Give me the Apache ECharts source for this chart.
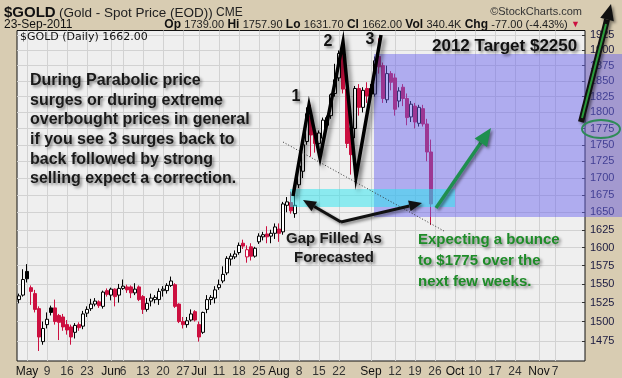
<!DOCTYPE html>
<html><head><meta charset="utf-8">
<script src="https://cdn.jsdelivr.net/npm/echarts@6/dist/echarts.min.js"></script>
<style>html,body{margin:0;padding:0;background:#d8ccb2;}#c{width:622px;height:378px;}</style>
</head><body><div id="c"></div>
<script>
// ---- trading days (month -> days) ----
const daysApr = [28,29];
const daysMay = [2,3,4,5,6,9,10,11,12,13,16,17,18,19,20,23,24,25,26,27,31];
const daysJun = [1,2,3,6,7,8,9,10,13,14,15,16,17,20,21,22,23,24,27,28,29,30];
const daysJul = [1,5,6,7,8,11,12,13,14,15,18,19,20,21,22,25,26,27,28,29];
const daysAug = [1,2,3,4,5,8,9,10,11,12,15,16,17,18,19,22,23,24,25,26,29,30,31];
const daysSep = [1,2,6,7,8,9,12,13,14,15,16,19,20,21,22,23,26,27,28,29,30];
const daysOct = [3,4,5,6,7,10,11,12,13,14,17,18,19,20,21,24,25,26,27,28,31];
const daysNov = [1,2,3,4,7,8,9,10,11,14,15,16];

// ---- OHLC (Apr 28 .. Sep 23, 2011) ----
const opens  = [1529,1535,1567,1545,1537,1517,1474,1496,1518,1518,1508,1506,1496,1493,1486,1496,1494,1511,1517,1523,1526,1520,1541,1535,1543,1535,1544,1546,1546,1538,1546,1533,1516,1527,1529,1529,1541,1541,1548,1549,1523,1500,1496,1502,1513,1496,1486,1516,1529,1531,1545,1554,1565,1584,1587,1593,1606,1587,1601,1588,1608,1615,1619,1616,1620,1626,1622,1660,1664,1648,1690,1710,1755,1795,1768,1752,1760,1780,1795,1830,1855,1897,1837,1776,1775,1838,1808,1838,1838,1829,1890,1875,1820,1862,1855,1818,1840,1822,1793,1810,1783,1806,1782,1739];
const highs  = [1537,1570,1577,1548,1542,1520,1500,1512,1521,1529,1510,1510,1502,1496,1498,1499,1514,1520,1530,1531,1528,1541,1544,1545,1544,1550,1556,1549,1548,1551,1548,1535,1531,1537,1535,1544,1547,1551,1560,1551,1524,1506,1506,1516,1515,1500,1513,1535,1535,1547,1556,1574,1588,1592,1596,1607,1611,1603,1606,1601,1620,1622,1630,1625,1634,1634,1665,1672,1680,1676,1724,1760,1808,1812,1775,1772,1792,1795,1830,1878,1900,1912,1845,1790,1842,1845,1840,1848,1845,1890,1920,1880,1875,1866,1862,1840,1845,1830,1818,1815,1812,1812,1790,1757.9];
const lows   = [1524,1533,1552,1522,1512,1462,1470,1491,1508,1496,1476,1488,1483,1470,1478,1488,1490,1506,1514,1520,1518,1517,1533,1528,1520,1525,1542,1538,1531,1535,1527,1510,1513,1520,1524,1522,1533,1537,1546,1518,1498,1491,1492,1500,1500,1474,1484,1511,1522,1524,1542,1551,1562,1575,1584,1590,1598,1579,1582,1586,1605,1610,1606,1606,1612,1608,1618,1650,1648,1642,1685,1700,1750,1732,1738,1745,1755,1775,1790,1825,1850,1830,1745,1705,1760,1795,1800,1815,1818,1825,1862,1815,1815,1835,1795,1808,1810,1780,1785,1775,1778,1778,1725,1631.7];
const closes = [1534,1556,1557,1540,1516,1480,1491,1503,1512,1500,1499,1493,1489,1480,1495,1492,1510,1516,1523,1527,1521,1539,1536,1543,1533,1544,1547,1542,1538,1543,1529,1516,1524,1531,1532,1540,1543,1548,1554,1520,1500,1496,1501,1510,1502,1480,1512,1529,1532,1542,1549,1563,1585,1588,1591,1603,1602,1597,1588,1599,1616,1618,1615,1620,1629,1620,1662,1665,1652,1660,1718,1750,1798,1765,1752,1768,1788,1792,1828,1852,1895,1837,1752,1735,1838,1808,1835,1826,1829,1883,1873,1822,1862,1848,1805,1834,1822,1792,1813,1785,1808,1782,1739,1662];

// ---- axis ticks ----
const yTicks = [1475,1500,1525,1550,1575,1600,1625,1650,1675,1700,1725,1750,1775,1800,1825,1850,1875,1900,1925];
const yMin = 1449.3, yMax = 1933.3;
const xTickDates  = ['05-02','05-09','05-16','05-23','06-01','06-06','06-13','06-20','06-27','07-01','07-11','07-18','07-25','08-01','08-08','08-15','08-22','09-01','09-12','09-19','09-26','10-03','10-10','10-17','10-24','11-01','11-07'];
const xTickLabels = ['May','9','16','23','Jun','6','13','20','27','Jul','11','18','25','Aug','8','15','22','Sep','12','19','26','Oct','10','17','24','Nov','7'];

const pad = n => (n<10?'0':'')+n;
const months = [['04',daysApr],['05',daysMay],['06',daysJun],['07',daysJul],['08',daysAug],['09',daysSep],['10',daysOct],['11',daysNov]];
const categories = [];
months.forEach(([m,ds]) => ds.forEach(d => categories.push(m+'-'+pad(d))));
const tickMap = {};
xTickDates.forEach((d,i)=> tickMap[d] = xTickLabels[i]);

const L = Math.log;
const RED = '#cc1040';
const candleData = opens.map((o,i)=>{
  const c = closes[i];
  const down = i>0 && c < closes[i-1];
  const col = down ? RED : '#000';
  const hollow = c >= o;
  const fill = hollow ? '#ffffff' : col;
  return {value:[L(o),L(c),L(lows[i]),L(highs[i])],
    itemStyle:{color:fill,color0:fill,borderColor:col,borderColor0:col,borderWidth:1}};
});

const FONT = '"Liberation Sans", Arial, sans-serif';
const shadow = {shadowBlur:3, shadowColor:'rgba(0,0,0,0.45)', shadowOffsetX:2, shadowOffsetY:2};
const tshadow = {textShadowBlur:3, textShadowColor:'rgba(0,0,0,0.45)', textShadowOffsetX:2, textShadowOffsetY:2};

function arrow(x1,y1,x2,y2,color,lw,hl,hw,z,sh){
  const a = Math.atan2(y2-y1,x2-x1);
  const bx = x2-hl*Math.cos(a), by = y2-hl*Math.sin(a);
  const px = -Math.sin(a)*hw/2, py = Math.cos(a)*hw/2;
  return [
    {type:'line', z:z, shape:{x1:x1,y1:y1,x2:bx,y2:by}, style:Object.assign({stroke:color,lineWidth:lw},sh||{})},
    {type:'polygon', z:z, shape:{points:[[x2,y2],[bx+px,by+py],[bx-px,by-py]]}, style:Object.assign({fill:color},sh||{})}
  ];
}

const graphics = [
  // header
  {type:'text', z:20, style:{x:4, y:13, text:'{a|$GOLD} {b|(Gold - Spot Price (EOD))} {c|CME}', verticalAlign:'middle',
    rich:{a:{font:'bold 15px '+FONT, fill:'#111'}, b:{font:'13.5px '+FONT, fill:'#222'}, c:{font:'12px '+FONT, fill:'#222'}}}},
  {type:'text', z:20, style:{x:582, y:12, text:'\u00A9StockCharts.com', align:'right', verticalAlign:'middle', font:'11px '+FONT, fill:'#333'}},
  {type:'text', z:20, style:{x:4, y:25, text:'23-Sep-2011', verticalAlign:'middle', font:'12px '+FONT, fill:'#111'}},
  {type:'text', z:20, style:{x:580, y:25, align:'right', verticalAlign:'middle',
    text:'{k|Op} {v|1739.00} {k|Hi} {v|1757.90} {k|Lo} {v|1631.70} {k|Cl} {v|1662.00} {k|Vol} {v|340.4K} {k|Chg} {v|-77.00 (-4.43%)} {r|\u25BC}',
    rich:{k:{font:'bold 12px '+FONT, fill:'#111'}, v:{font:'11px '+FONT, fill:'#222'}, r:{font:'9px '+FONT, fill:'#cc1040'}}}},
  // overlays
  {type:'rect', z:10, shape:{x:374, y:54, width:248, height:163}, style:{fill:'rgba(105,98,238,0.48)'}},
  {type:'rect', z:11, shape:{x:290, y:189, width:165, height:18}, style:{fill:'rgba(40,230,240,0.5)'}},
  {type:'line', z:12, shape:{x1:283,y1:142,x2:444,y2:231}, style:{stroke:'#333', lineWidth:1, lineDash:[1,2]}},
  {type:'polyline', z:13, shape:{points:[[293,196],[309,105],[320,158],[343,42],[356,177],[381,35]]},
    style:Object.assign({stroke:'#000', lineWidth:3.5, fill:null}, {shadowBlur:4, shadowColor:'rgba(0,0,0,0.5)', shadowOffsetX:3, shadowOffsetY:3})},
  // labels on chart
  {type:'text', z:20, style:{x:20, y:37, text:'$GOLD (Daily) 1662.00', verticalAlign:'middle', font:'11px "DejaVu Sans", Verdana, sans-serif', fill:'#111'}},
  {type:'text', z:20, style:Object.assign({x:30, y:71, text:'During Parabolic price\nsurges or during extreme\noverbought prices in general\nif you see 3 surges back to\nback followed by strong\nselling expect a correction.',
    font:'bold 16px '+FONT, fill:'#1a1a1a', lineHeight:19.6}, tshadow)},
  {type:'text', z:20, style:Object.assign({x:296, y:97, text:'1', align:'center', verticalAlign:'middle', font:'bold 16px '+FONT, fill:'#111'}, tshadow)},
  {type:'text', z:20, style:Object.assign({x:328, y:42, text:'2', align:'center', verticalAlign:'middle', font:'bold 16px '+FONT, fill:'#111'}, tshadow)},
  {type:'text', z:20, style:Object.assign({x:370, y:40, text:'3', align:'center', verticalAlign:'middle', font:'bold 16px '+FONT, fill:'#111'}, tshadow)},
  {type:'text', z:20, style:Object.assign({x:432, y:46, text:'2012 Target $2250', verticalAlign:'middle', font:'bold 17px '+FONT, fill:'#111'}, tshadow)},
  {type:'text', z:20, style:Object.assign({x:334, y:229, text:'Gap Filled As\nForecasted', align:'center', font:'bold 15px '+FONT, fill:'#1a1a1a', lineHeight:19}, tshadow)},
  {type:'text', z:20, style:Object.assign({x:418, y:229, text:'Expecting a bounce\nto $1775 over the\nnext few weeks.', font:'bold 15px '+FONT, fill:'#1e8c28', lineHeight:21}, tshadow)},
  {type:'ellipse', z:20, shape:{cx:601, cy:129, rx:19, ry:9}, style:{stroke:'#2e8b57', lineWidth:2, fill:null}}
].concat(
  arrow(341,222,303,200,'#111',3,13,11,14,shadow),
  arrow(341,222,422,203,'#111',3,13,11,14,shadow),
  arrow(436,208,491,128,'#1f8f4f',3.5,18,15,14,shadow),
  arrow(581,122,611,4,'#111',6,16,14,14,shadow),
  [{type:'line', z:15, shape:{x1:582,y1:118,x2:606,y2:24}, style:{stroke:'#2a9a3a', lineWidth:2}}]
);

const chart = echarts.init(document.getElementById('c'), null, {renderer:'canvas'});
chart.setOption({
  animation:false,
  backgroundColor:'#d8ccb2',
  grid:{left:17, right:37, top:30.5, bottom:14.5, show:true, backgroundColor:'#efefef', borderColor:'#111', borderWidth:1},
  xAxis:{type:'category', data:categories, boundaryGap:true,
    axisLine:{show:false}, axisTick:{show:false},
    axisLabel:{interval:(i,v)=> tickMap[v]!==undefined, margin:5,
      formatter:v=>{ const t = tickMap[v]; return isNaN(+t) ? '{m|'+t+'}' : '{d|'+t+'}'; },
      rich:{m:{font:'bold 13px '+FONT, color:'#111'}, d:{font:'12px '+FONT, color:'#333'}}},
    splitLine:{show:true, interval:(i,v)=> tickMap[v]!==undefined, alignWithLabel:true, lineStyle:{color:'#d2d2d2', width:1}}
  },
  yAxis:{type:'value', position:'right', min:L(yMin), max:L(yMax), scale:true,
    axisLine:{show:false},
    axisTick:{show:true, inside:true, length:3, customValues:yTicks.map(L), lineStyle:{color:'#333'}},
    axisLabel:{customValues:yTicks.map(L), formatter:v=>String(Math.round(Math.exp(v))), margin:5,
      fontFamily:'"Liberation Sans", Arial, sans-serif', fontSize:11, color:'#1a1a40'},
    splitLine:{show:true, lineStyle:{color:'#d2d2d2', width:1}}
  },
  series:[{type:'candlestick', data:candleData, barWidth:3, z:2}],
  graphic:graphics
});
</script></body></html>
